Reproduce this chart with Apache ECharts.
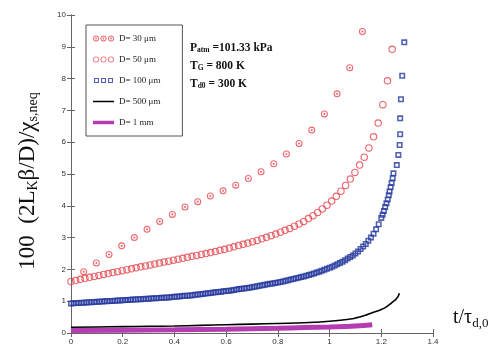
<!DOCTYPE html>
<html><head><meta charset="utf-8">
<script src="https://cdn.jsdelivr.net/npm/echarts@6/dist/echarts.min.js"></script>
<style>html,body{margin:0;padding:0;background:#fff}#c{width:500px;height:347px}</style>
</head><body><div id="c"></div>
<script>
// ---- data ----
const seriesNames = ['D= 30 μm', 'D= 50 μm', 'D= 100 μm', 'D= 500 μm', 'D= 1 mm'];

const d30X = [0.049,0.098,0.147,0.196,0.245,0.294,0.343,0.392,0.441,0.490,0.539,0.588,0.637,0.686,0.735,0.784,0.833,0.882,0.931,0.980,1.029,1.078,1.127];
const d30Y = [1.93,2.20,2.47,2.74,3.00,3.26,3.51,3.73,3.96,4.13,4.31,4.47,4.65,4.86,5.07,5.32,5.63,5.96,6.38,6.89,7.52,8.34,9.48];

const d50X = [0.000,0.018,0.036,0.054,0.072,0.090,0.108,0.126,0.144,0.162,0.180,0.198,0.216,0.234,0.252,0.270,0.288,0.306,0.324,0.342,0.360,0.378,0.396,0.414,0.432,0.450,0.468,0.486,0.504,0.522,0.540,0.558,0.576,0.594,0.612,0.630,0.648,0.666,0.684,0.702,0.720,0.738,0.756,0.774,0.792,0.810,0.828,0.846,0.864,0.882,0.900,0.918,0.936,0.954,0.972,0.990,1.008,1.026,1.044,1.062,1.080,1.098,1.116,1.134,1.152,1.170,1.188,1.206,1.224,1.242];
const d50Y = [1.62,1.65,1.69,1.72,1.75,1.78,1.81,1.84,1.87,1.90,1.93,1.96,1.99,2.02,2.05,2.08,2.11,2.14,2.17,2.20,2.23,2.26,2.29,2.32,2.35,2.38,2.41,2.44,2.47,2.50,2.53,2.56,2.60,2.63,2.67,2.71,2.75,2.79,2.83,2.87,2.91,2.96,3.01,3.06,3.11,3.17,3.23,3.29,3.36,3.43,3.51,3.60,3.69,3.79,3.90,4.02,4.15,4.30,4.46,4.64,4.84,5.05,5.28,5.53,5.82,6.17,6.60,7.18,7.93,8.92];

const d100X = [
  0.00,0.01,0.02,0.03,0.04,0.05,0.06,0.07,0.08,0.09,0.10,0.11,0.12,0.13,0.14,0.15,0.16,0.17,0.18,0.19,0.20,
  0.21,0.22,0.23,0.24,0.25,0.26,0.27,0.28,0.29,0.30,0.31,0.32,0.33,0.34,0.35,0.36,0.37,0.38,0.39,0.40,
  0.41,0.42,0.43,0.44,0.45,0.46,0.47,0.48,0.49,0.50,
  0.51,0.52,0.53,0.54,0.55,0.56,0.57,0.58,0.59,0.60,
  0.61,0.62,0.63,0.64,0.65,0.66,0.67,0.68,0.69,0.70,
  0.71,0.72,0.73,0.74,0.75,0.76,0.77,0.78,0.79,0.80,
  0.81,0.82,0.83,0.84,0.85,0.86,0.87,0.88,0.89,0.90,
  0.91,0.92,0.93,0.94,0.95,0.96,0.97,0.98,0.99,1.00,
  1.01,1.02,1.03,1.04,1.05,1.06,1.07,1.08,1.09,1.10,
  1.11,1.12,1.13,1.14,1.15,1.16,1.17,1.18,1.19,1.20,
  1.205,1.21,1.215,1.22,1.225,1.229,1.232,1.236,1.24,1.244,1.247,1.26,1.266,1.271,1.273,1.273,1.276,1.281,1.289];
const d100Y = [
  0.93,0.935,0.94,0.945,0.95,0.955,0.96,0.965,0.97,0.975,0.98,0.985,0.99,0.995,1.00,1.005,1.01,1.015,1.02,1.025,1.03,
  1.035,1.04,1.045,1.05,1.055,1.06,1.065,1.07,1.075,1.08,1.085,1.09,1.095,1.10,1.105,1.11,1.115,1.12,1.13,1.14,
  1.145,1.15,1.16,1.17,1.175,1.18,1.19,1.20,1.21,1.22,
  1.23,1.24,1.25,1.26,1.27,1.28,1.29,1.30,1.31,1.32,
  1.33,1.34,1.355,1.365,1.38,1.39,1.40,1.415,1.425,1.44,
  1.455,1.47,1.485,1.50,1.515,1.53,1.545,1.56,1.575,1.59,
  1.605,1.62,1.64,1.66,1.68,1.70,1.72,1.74,1.76,1.78,
  1.80,1.825,1.85,1.875,1.90,1.93,1.96,1.99,2.02,2.05,
  2.085,2.12,2.16,2.20,2.24,2.29,2.34,2.39,2.44,2.50,
  2.56,2.64,2.72,2.80,2.90,3.00,3.12,3.26,3.42,3.62,
  3.72,3.84,3.96,4.08,4.20,4.33,4.45,4.58,4.72,4.87,5.02,5.28,5.60,5.91,6.25,6.75,7.35,8.09,9.14];

const d500X = [0.00,0.10,0.20,0.30,0.40,0.50,0.60,0.70,0.80,0.90,0.95,1.00,1.05,1.08,1.10,1.12,1.143,1.17,1.20,1.221,1.24,1.26,1.27];
const d500Y = [0.18,0.19,0.20,0.21,0.22,0.24,0.26,0.28,0.30,0.32,0.34,0.37,0.41,0.44,0.47,0.51,0.57,0.65,0.74,0.83,0.95,1.09,1.25];

const d1mmX = [0.00,0.20,0.40,0.60,0.80,0.90,1.00,1.10,1.165];
const d1mmY = [0.08,0.09,0.10,0.12,0.15,0.17,0.19,0.22,0.26];

// ---- styles ----
const RED = '#e6444c', BLUE = '#26389e', MAGENTA = '#b63cb4';
function ring(cx, cy, r, ri) {
  return `M${cx-r},${cy}A${r},${r} 0 1,0 ${cx+r},${cy}A${r},${r} 0 1,0 ${cx-r},${cy}Z` +
         `M${cx-ri},${cy}A${ri},${ri} 0 1,1 ${cx+ri},${cy}A${ri},${ri} 0 1,1 ${cx-ri},${cy}Z`;
}
function dot(cx, cy, r) {
  return `M${cx-r},${cy}A${r},${r} 0 1,0 ${cx+r},${cy}A${r},${r} 0 1,0 ${cx-r},${cy}Z`;
}
function sq(x, y, s, t) {
  return `M${x},${y}H${x+s}V${y+s}H${x}Z M${x+t},${y+t}V${y+s-t}H${x+s-t}V${y+t}Z`;
}
const symDotRing = 'path://' + ring(5,5,5,3.5) + dot(5,5,1.5);
const symRing = 'path://' + ring(5,5,5,3.5);
const symSquare = 'path://' + sq(0,0,10,2.6);
const bbox = 'M0,0L0,0Z M21,6L21,6Z';
const iconDotRing = 'path://' + bbox + ring(3,3,3,2.1) + dot(3,3,0.9) + ring(10.5,3,3,2.1) + dot(10.5,3,0.9) + ring(18,3,3,2.1) + dot(18,3,0.9);
const iconRing = 'path://' + bbox + ring(3,3,3,2.2) + ring(10.5,3,3,2.2) + ring(18,3,3,2.2);
const iconSquare = 'path://' + bbox + sq(1,0.5,5,1.1) + sq(8,0.5,5,1.1) + sq(15,0.5,5,1.1);
const iconThin = 'path://' + bbox + 'M0,2.3H21V3.7H0Z';
const iconThick = 'path://' + bbox + 'M0,1.3H21V4.7H0Z';

const zip = (xs, ys) => xs.map((x, i) => [x, ys[i]]);
const AX = '#666';
const serif = 'Liberation Serif';

const chart = echarts.init(document.getElementById('c'));
chart.setOption({
  animation: false,
  backgroundColor: '#fff',
  grid: { left: 71, right: 67, top: 15, bottom: 14 },
  xAxis: [
    { type: 'value', min: 0, max: 1.4, interval: 0.2, position: 'bottom',
      axisLine: { lineStyle: { color: AX, width: 1 } },
      axisTick: { inside: true, length: 4, lineStyle: { color: AX } },
      axisLabel: { fontSize: 8, color: '#333', fontFamily: 'Liberation Sans', margin: 5 },
      splitLine: { show: false } },
    { type: 'value', min: 0, max: 1.4, interval: 0.2, position: 'top',
      axisLine: { lineStyle: { color: AX, width: 1 } },
      axisTick: { inside: true, length: 4, lineStyle: { color: AX } },
      axisLabel: { show: false }, splitLine: { show: false } }
  ],
  yAxis: [
    { type: 'value', min: 0, max: 10, interval: 1, position: 'left',
      axisLine: { show: true, lineStyle: { color: AX, width: 1 } },
      axisTick: { show: true, inside: true, length: 4, lineStyle: { color: AX } },
      axisLabel: { fontSize: 8, color: '#333', fontFamily: 'Liberation Sans', margin: 5 },
      splitLine: { show: false } },
    { type: 'value', min: 0, max: 10, interval: 1, position: 'right',
      axisLine: { show: true, lineStyle: { color: AX, width: 1 } },
      axisTick: { show: true, inside: true, length: 4, lineStyle: { color: AX } },
      axisLabel: { show: false }, splitLine: { show: false } }
  ],
  legend: {
    orient: 'vertical', left: 86, top: 25,
    padding: [9, 22, 9, 7], itemGap: 12, itemWidth: 21, itemHeight: 6,
    backgroundColor: '#fff', borderColor: '#555', borderWidth: 1,
    textStyle: { fontFamily: serif, fontSize: 9, color: '#222' },
    data: [
      { name: seriesNames[0], icon: iconDotRing, itemStyle: { borderWidth: 0 } },
      { name: seriesNames[1], icon: iconRing, itemStyle: { borderWidth: 0 } },
      { name: seriesNames[2], icon: iconSquare, itemStyle: { borderWidth: 0 } },
      { name: seriesNames[3], icon: iconThin, itemStyle: { color: '#000', borderWidth: 0 } },
      { name: seriesNames[4], icon: iconThick, itemStyle: { color: MAGENTA, borderWidth: 0 } }
    ]
  },
  series: [
    { name: seriesNames[4], type: 'line', data: zip(d1mmX, d1mmY), smooth: true, symbol: 'none',
      lineStyle: { color: MAGENTA, width: 5 }, itemStyle: { color: MAGENTA }, z: 2 },
    { name: seriesNames[3], type: 'line', data: zip(d500X, d500Y), smooth: true, symbol: 'none',
      lineStyle: { color: '#000', width: 1.6 }, itemStyle: { color: '#000' }, z: 3 },
    { name: seriesNames[2], type: 'scatter', data: zip(d100X, d100Y), symbol: symSquare, symbolSize: 6,
      itemStyle: { color: BLUE }, z: 4 },
    { name: seriesNames[1], type: 'scatter', data: zip(d50X, d50Y), symbol: symRing, symbolSize: 7.5,
      itemStyle: { color: RED }, z: 5 },
    { name: seriesNames[0], type: 'scatter', data: zip(d30X, d30Y), symbol: symDotRing, symbolSize: 7,
      itemStyle: { color: RED }, z: 6 }
  ],
  graphic: [
    { type: 'text', x: 28, y: 181, rotation: Math.PI / 2,
      style: { text: '100  (2L{s|K}β/D)/χ{s|s,neq}', fontFamily: serif, fontSize: 23, fill: '#111',
        align: 'center', verticalAlign: 'middle',
        rich: { s: { fontFamily: serif, fontSize: 14, padding: [11, 0, 0, 0], fill: '#111' } } } },
    { type: 'text', x: 453, y: 318,
      style: { text: 't/τ{s|d,0}', fontFamily: serif, fontSize: 20, fill: '#111',
        align: 'left', verticalAlign: 'middle',
        rich: { s: { fontFamily: serif, fontSize: 13, padding: [11, 0, 0, 0], fill: '#111' } } } },
    { type: 'text', x: 190, y: 48,
      style: { text: 'P{s|atm} =101.33 kPa', fontFamily: serif, fontSize: 11.5, fontWeight: 'bold', fill: '#111',
        align: 'left', verticalAlign: 'middle',
        rich: { s: { fontFamily: serif, fontSize: 7.5, fontWeight: 'bold', padding: [4, 0, 0, 0], fill: '#111' } } } },
    { type: 'text', x: 190, y: 66,
      style: { text: 'T{s|G} = 800 K', fontFamily: serif, fontSize: 11.5, fontWeight: 'bold', fill: '#111',
        align: 'left', verticalAlign: 'middle',
        rich: { s: { fontFamily: serif, fontSize: 7.5, fontWeight: 'bold', padding: [4, 0, 0, 0], fill: '#111' } } } },
    { type: 'text', x: 190, y: 84,
      style: { text: 'T{s|d0} = 300 K', fontFamily: serif, fontSize: 11.5, fontWeight: 'bold', fill: '#111',
        align: 'left', verticalAlign: 'middle',
        rich: { s: { fontFamily: serif, fontSize: 7.5, fontWeight: 'bold', padding: [4, 0, 0, 0], fill: '#111' } } } }
  ]
});
</script>
</body></html>
